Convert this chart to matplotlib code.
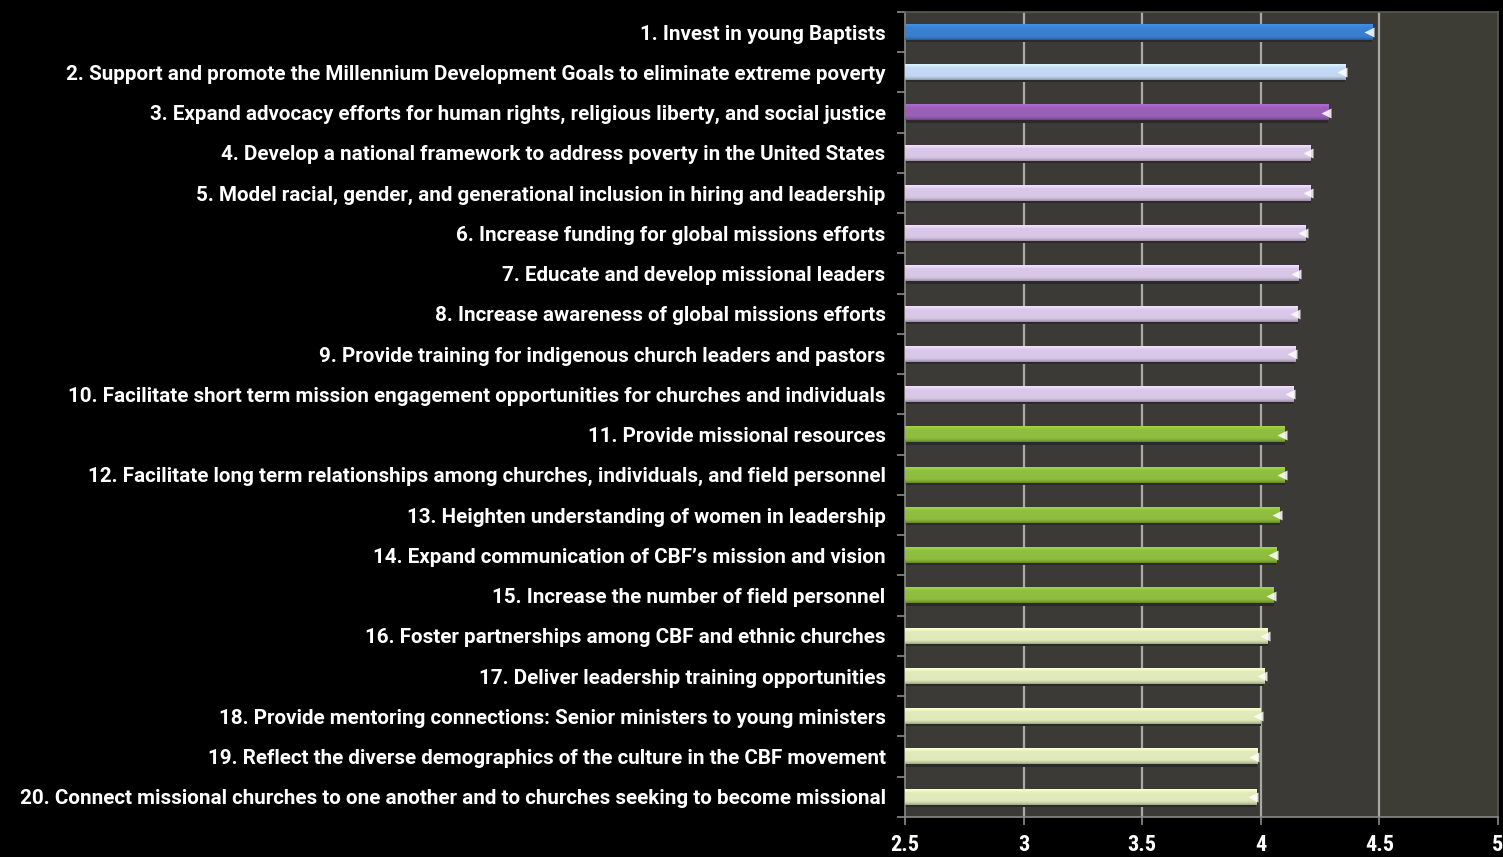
"""Priority ratings bar chart on a dark background."""

import matplotlib

matplotlib.use("Agg")

import matplotlib.pyplot as plt
import numpy as np
from matplotlib.colors import to_rgb

labels = [
    "1. Invest in young Baptists",
    "2. Support and promote the Millennium Development Goals to eliminate extreme poverty",
    "3. Expand advocacy efforts for human rights, religious liberty, and social justice",
    "4. Develop a national framework to address poverty in the United States",
    "5. Model racial, gender, and generational inclusion in hiring and leadership",
    "6. Increase funding for global missions efforts",
    "7. Educate and develop missional leaders",
    "8. Increase awareness of global missions efforts",
    "9. Provide training for indigenous church leaders and pastors",
    "10. Facilitate short term mission engagement opportunities for churches and individuals",
    "11. Provide missional resources",
    "12. Facilitate long term relationships among churches, individuals, and field personnel",
    "13. Heighten understanding of women in leadership",
    "14. Expand communication of CBF\u2019s mission and vision",
    "15. Increase the number of field personnel",
    "16. Foster partnerships among CBF and ethnic churches",
    "17. Deliver leadership training opportunities",
    "18. Provide mentoring connections: Senior ministers to young ministers",
    "19. Reflect the diverse demographics of the culture in the CBF movement",
    "20. Connect missional churches to one another and to churches seeking to become missional",
]
scores = [4.47, 4.355, 4.285, 4.21, 4.21, 4.19, 4.16, 4.155, 4.145, 4.137,
          4.10, 4.10, 4.08, 4.065, 4.055, 4.03, 4.015, 4.0, 3.985, 3.98]
groups = ["blue", "lightblue", "purple"] + ["lavender"] * 7 + ["green"] * 5 + ["pale"] * 5
x_ticks = [2.5, 3, 3.5, 4, 4.5, 5]
x_tick_labels = ["2.5", "3", "3.5", "4", "4.5", "5"]

group_colors = {
    "blue": "#3a80d2",
    "lightblue": "#c3d8f2",
    "purple": "#9a60b8",
    "lavender": "#d9c7e7",
    "green": "#8fbe3e",
    "pale": "#dfe9b9",
}

LABEL_FONT = ["Roboto", "DejaVu Sans"]
TICK_FONT = ["Roboto Condensed", "Roboto", "DejaVu Sans"]


def tube(color, n=32):
    """Vertical shading: light top edge, flat middle, darker bottom edge."""
    base = np.array(to_rgb(color))
    t = np.linspace(0, 1, n)
    light = 1.0 + 0.12 * np.exp(-(t / 0.15) ** 2) - 0.3 * np.clip((t - 0.7) / 0.3, 0, 1) ** 2
    rgb = np.clip(base[None, :] * light[:, None], 0, 1)
    return rgb[:, None, :]


def main() -> None:
    fig = plt.figure(figsize=(15.03, 8.57), dpi=100, facecolor="black")
    ax = fig.add_axes([905 / 1503, 40 / 857, 593 / 1503, 805 / 857])
    ax.set_facecolor("#3b3a37")

    n = len(labels)
    ypos = np.arange(n)
    h = 0.38

    # slightly different tone on the right side of the plot
    ax.axvspan(4.5, 5, color="#3d3c35", zorder=0)

    for x in x_ticks[1:-1]:
        ax.axvline(x, color="#a9a9a4", lw=1.6, zorder=1)

    for y, val, g in zip(ypos, scores, groups):
        c = group_colors[g]
        # shadow below the bar
        ax.add_patch(plt.Rectangle((2.5, y + h / 2 - 0.02), val - 2.5, 0.08,
                                   color="#2a2a28", zorder=2, lw=0))
        ax.imshow(tube(c), extent=(2.5, val, y + h / 2, y - h / 2),
                  aspect="auto", interpolation="bicubic", zorder=3)
        ax.plot([val - 0.012], [y], marker="<", ms=7, color="white",
                alpha=0.85, mec="none", zorder=4)

    ax.set_xlim(2.5, 5)
    ax.set_ylim(n - 0.5, -0.5)

    ax.set_yticks(ypos)
    ax.set_yticklabels(labels, color="white", fontsize=14.9,
                       fontweight="bold", family=LABEL_FONT)
    ax.set_yticks(np.arange(-0.5, n, 1.0), minor=True)
    ax.tick_params(axis="y", which="major", length=0, pad=14)
    ax.tick_params(axis="y", which="minor", length=6, color="#8a8a86", width=1.2)

    ax.set_xticks(x_ticks)
    ax.set_xticklabels(x_tick_labels, color="white", fontsize=16,
                       fontweight="bold", family=TICK_FONT)
    ax.tick_params(axis="x", length=6, color="#8a8a86", width=1.2, pad=6)

    for side in ["top", "right", "bottom", "left"]:
        ax.spines[side].set_color("#8a8a86")
        ax.spines[side].set_linewidth(1.2)
    ax.spines["top"].set_color("#5a5a56")
    ax.spines["right"].set_color("#5a5a56")

    fig.savefig("out.png", dpi=100, facecolor="black")
    plt.close(fig)


if __name__ == "__main__":
    main()
